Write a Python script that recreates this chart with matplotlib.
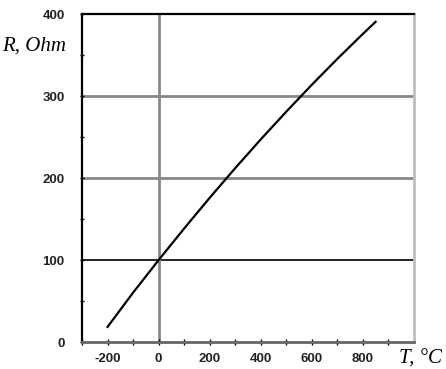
import matplotlib.pyplot as plt

plt.rcParams["axes.unicode_minus"] = False

# platinum resistance thermometer curve
temp = [-200, -100, 0, 100, 200, 300, 400, 500, 600, 700, 800, 850]
resist = [18.5, 60.3, 100, 138.5, 175.9, 212.1, 247.1, 280.9, 313.7, 345.3, 375.7, 390.5]
x_ticks = [-200, 0, 200, 400, 600, 800]
y_ticks = [0, 100, 200, 300, 400]

fig = plt.figure(figsize=(4.46, 3.69), dpi=100)
ax = fig.add_axes([0.184, 0.073, 0.744, 0.889])

# grid lines (drawn by hand to get the mixed colours)
ax.axhline(100, color="black", lw=1.2, zorder=1)
ax.axhline(200, color="#888888", lw=2, zorder=1)
ax.axhline(300, color="#888888", lw=2, zorder=1)
ax.axvline(0, color="#888888", lw=2, zorder=1)

ax.plot(temp, resist, color="black", lw=1.6, zorder=3)

ax.set_xlim(-300, 1000)
ax.set_ylim(0, 400)
ax.set_xticks(x_ticks)
ax.set_xticks(range(-300, 1000, 100), minor=True)
ax.set_yticks(y_ticks)
ax.set_yticks(range(0, 401, 50), minor=True)
ax.tick_params(axis="x", which="both", direction="inout", length=4, width=1,
               labelsize=9.5, pad=6)
ax.tick_params(axis="y", which="both", direction="inout", length=3, width=1,
               labelsize=9.5, pad=11)
for lab in ax.get_xticklabels() + ax.get_yticklabels():
    lab.set_fontweight("bold")
    lab.set_fontfamily("Liberation Sans")
    lab.set_color("#222222")

ax.spines["left"].set_color("black")
ax.spines["left"].set_linewidth(1.6)
ax.spines["top"].set_color("black")
ax.spines["top"].set_linewidth(1.6)
ax.spines["bottom"].set_color("#666666")
ax.spines["bottom"].set_linewidth(2)
ax.spines["right"].set_color("#c0c0c0")
ax.spines["right"].set_linewidth(2)

fig.text(0.004, 0.862, "R, Ohm", fontsize=15, style="italic",
         family="Liberation Serif")
fig.text(0.895, 0.014, "T, \u00b0C", fontsize=15, style="italic",
         family="Liberation Serif", ha="left")

fig.savefig("out.png", dpi=100)
